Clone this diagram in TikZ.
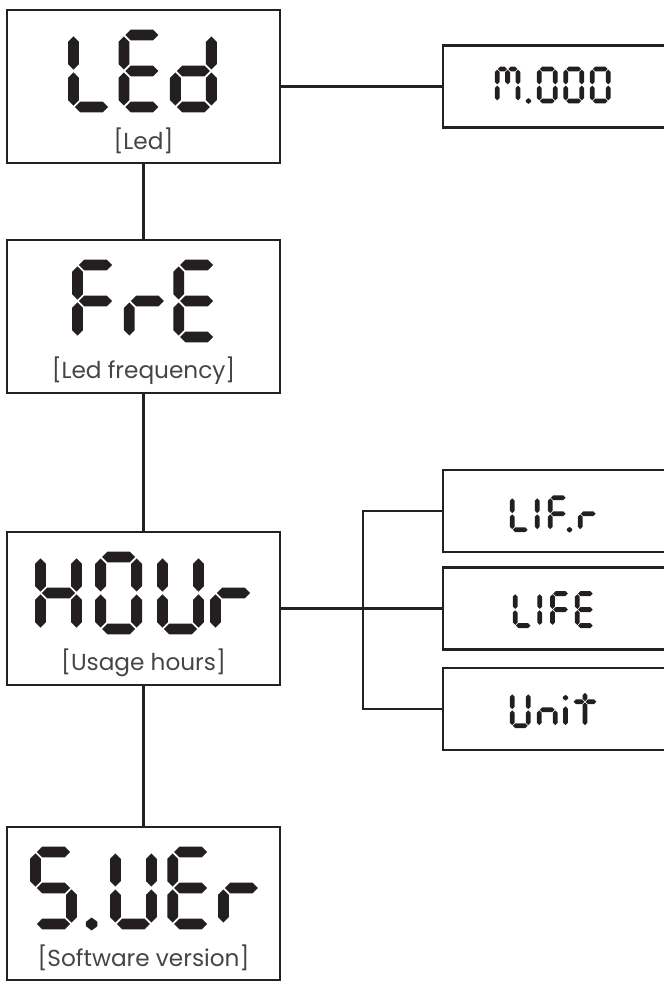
\documentclass[tikz,border=0pt]{standalone}
\usepackage{fontspec}
\newfontfamily\lblfont{Poppins}
\usetikzlibrary{positioning}
\definecolor{segcol}{HTML}{231F20}
\definecolor{boxcol}{HTML}{222220}
\definecolor{lblcol}{HTML}{454545}
\tikzset{
  mainbox/.style={draw=boxcol,line width=2.1pt,minimum width=6.825cm,minimum height=3.825cm,inner sep=0pt},
  subbox/.style={draw=boxcol,line width=1.9pt,minimum width=6.5cm,minimum height=2.05cm,inner sep=0pt,anchor=west},
  lbl/.style={text=lblcol,font=\lblfont\fontsize{16.5}{18}\selectfont},
  link/.style={draw=boxcol,line width=1.7pt},
  segfill/.style={fill=segcol}
}
% one segment of a display, in units of the digit cell
\newcommand\segt{0.3}
\newcommand\hseg[3]{\fill[segfill] (#1+0.04,#3) -- (#1+0.04+\segt/2,#3+\segt/2) -- (#2-0.04-\segt/2,#3+\segt/2) -- (#2-0.04,#3) -- (#2-0.04-\segt/2,#3-\segt/2) -- (#1+0.04+\segt/2,#3-\segt/2) -- cycle;}
\newcommand\vseg[3]{\fill[segfill] (#1,#2+0.04) -- (#1+\segt/2,#2+0.04+\segt/2) -- (#1+\segt/2,#3-0.04-\segt/2) -- (#1,#3-0.04) -- (#1-\segt/2,#3-0.04-\segt/2) -- (#1-\segt/2,#2+0.04+\segt/2) -- cycle;}
\newcommand\segdot[2]{\fill[segfill] (#1,#2-0.18) -- (#1+0.16,#2-0.06) -- (#1+0.16,#2+0.06) -- (#1,#2+0.18) -- (#1-0.16,#2+0.06) -- (#1-0.16,#2-0.06) -- cycle;}
\newcommand\segA[1]{\hseg{#1}{#1+1}{2}}
\newcommand\segB[1]{\vseg{#1+1}{1}{2}}
\newcommand\segC[1]{\vseg{#1+1}{0}{1}}
\newcommand\segD[1]{\hseg{#1}{#1+1}{0}}
\newcommand\segE[1]{\vseg{#1}{0}{1}}
\newcommand\segF[1]{\vseg{#1}{1}{2}}
\newcommand\segG[1]{\hseg{#1}{#1+1}{1}}
% characters
\newcommand\glyphL[1]{\segD{#1}\segE{#1}\segF{#1}}
\newcommand\glyphE[1]{\segA{#1}\segD{#1}\segE{#1}\segF{#1}\segG{#1}}
\newcommand\glyphd[1]{\segB{#1}\segC{#1}\segD{#1}\segE{#1}\segG{#1}}
\newcommand\glyphF[1]{\segA{#1}\segE{#1}\segF{#1}\segG{#1}}
\newcommand\glyphr[1]{\segE{#1}\segG{#1}}
\newcommand\glyphH[1]{\segB{#1}\segC{#1}\segE{#1}\segF{#1}\segG{#1}}
\newcommand\glyphO[1]{\segA{#1}\segB{#1}\segC{#1}\segD{#1}\segE{#1}\segF{#1}}
\newcommand\glyphU[1]{\segB{#1}\segC{#1}\segD{#1}\segE{#1}\segF{#1}}
\newcommand\glyphS[1]{\segA{#1}\segC{#1}\segD{#1}\segF{#1}\segG{#1}}
\newcommand\glyphI[1]{\segE{#1}\segF{#1}}
\newcommand\glyphn[1]{\segC{#1}\segE{#1}\segG{#1}}
\newcommand\glyphi[1]{\vseg{#1}{0}{1.25}\segdot{#1}{1.75}}
\newcommand\glypht[1]{\vseg{#1+0.75}{0}{1.5}\vseg{#1+0.75}{1.5}{2.1}\hseg{#1}{#1+0.75}{1.5}\hseg{#1+0.75}{#1+1.5}{1.5}}
\newcommand\glyphM[1]{\segE{#1}\segF{#1}\vseg{#1+1.3}{0}{1}\vseg{#1+1.3}{1}{2}\hseg{#1}{#1+0.65}{2}\hseg{#1+0.65}{#1+1.3}{2}\vseg{#1+0.65}{1}{2}}
\newcommand\glyphdot[1]{\segdot{#1}{0}}
\begin{document}
\begin{tikzpicture}
\useasboundingbox (0,0) rectangle (16.6,-24.55);
\clip (0,0) rectangle (16.6,-24.55);
\node[mainbox] (led) at (3.5875,-2.1625) {};
\node[mainbox] (fre) at (3.5875,-7.9125) {};
\node[mainbox] (hour) at (3.5875,-15.2125) {};
\node[mainbox] (swver) at (3.5875,-22.5875) {};
\node[lbl] (ledlbl) at ([yshift=0.6cm]led.south) {[Led]};
\node[lbl] (frelbl) at ([yshift=0.6cm]fre.south) {[Led frequency]};
\node[lbl] (hourlbl) at ([yshift=0.6cm]hour.south) {[Usage hours]};
\node[lbl] (swverlbl) at ([yshift=0.6cm]swver.south) {[Software version]};
\node[subbox] (mode) at (11.04,-2.1625) {};
\node[subbox] (lifr) at (11.04,-12.775) {};
\node[subbox] (life) at (11.04,-15.2125) {};
\node[subbox] (unit) at (11.04,-17.725) {};
\coordinate (split) at (9.075,-15.2125);
\draw[link] (led) -- (fre);
\draw[link] (fre) -- (hour);
\draw[link] (hour) -- (swver);
\draw[link] (led) -- (mode);
\draw[link] (hour) -- (life);
\draw[link] (lifr.west) -| (split) |- (unit.west);
\begin{scope}[shift={(1.8375,-2.675)},scale=0.9]
\glyphL{0}\glyphE{1.40}\glyphd{2.83}
\end{scope}
\begin{scope}[shift={(1.9375,-8.425)},scale=0.9]
\glyphF{0}\glyphr{1.44}\glyphE{2.81}
\end{scope}
\begin{scope}[shift={(1.0125,-15.725)},scale=0.9]
\glyphH{0}\glyphO{1.67}\glyphU{3.39}\glyphr{4.86}
\end{scope}
\begin{scope}[shift={(0.8875,-23.1)},scale=0.9]
\glyphS{0}\glyphdot{1.56}\glyphU{2.22}\glyphE{3.81}\glyphr{5.22}
\end{scope}
\begin{scope}[shift={(12.431,-2.525)},scale=0.4]
\glyphM{0}\glyphdot{1.95}\glyphO{2.62}\glyphO{4.28}\glyphO{5.94}
\end{scope}
\begin{scope}[shift={(12.806,-13.244)},scale=0.4]
\glyphL{0}\glyphI{1.56}\glyphF{2.38}\glyphdot{3.58}\glyphr{4.25}
\end{scope}
\begin{scope}[shift={(12.881,-15.64)},scale=0.4]
\glyphL{0}\glyphI{1.53}\glyphF{2.33}\glyphE{3.88}
\end{scope}
\begin{scope}[shift={(12.806,-18.144)},scale=0.4]
\glyphU{0}\glyphn{1.69}\glyphi{3.33}\glypht{3.8}
\end{scope}
\end{tikzpicture}
\end{document}
